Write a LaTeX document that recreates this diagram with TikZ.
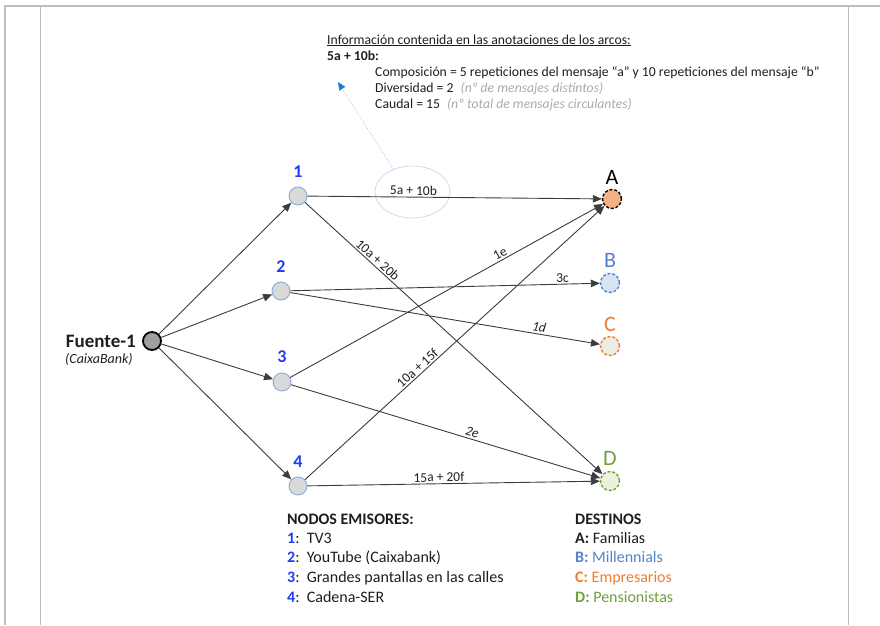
\documentclass[tikz,border=0pt]{standalone}
\usepackage{fontspec}
\setmainfont{Carlito}
\usetikzlibrary{arrows.meta,shapes.geometric}
\definecolor{txt}{RGB}{30,30,30}
\definecolor{frame}{RGB}{190,190,190}
\definecolor{emblue}{RGB}{30,60,250}
\definecolor{nodeborder}{RGB}{140,170,215}
\definecolor{nodefill}{RGB}{217,217,217}
\definecolor{edge}{RGB}{60,60,60}
\definecolor{orangefill}{RGB}{244,177,131}
\definecolor{bfill}{RGB}{218,227,243}
\definecolor{bblue}{RGB}{84,130,200}
\definecolor{cfill}{RGB}{237,237,228}
\definecolor{corange}{RGB}{237,125,49}
\definecolor{dfill}{RGB}{235,241,222}
\definecolor{dgreen}{RGB}{112,160,60}
\definecolor{callout}{RGB}{200,216,238}
\definecolor{calloutline}{RGB}{150,185,225}
\definecolor{arrowblue}{RGB}{40,120,210}
\definecolor{graytxt}{RGB}{170,170,170}
\tikzset{
  emisor/.style={circle,draw=nodeborder,fill=nodefill,line width=0.9pt,minimum size=18pt,inner sep=0pt},
  destino/.style={circle,dashed,line width=1.4pt,minimum size=19pt,inner sep=0pt,dash pattern=on 3pt off 1.8pt},
  numlab/.style={font=\fontsize{18}{20}\selectfont\bfseries,text=emblue,inner sep=0pt},
  destlab/.style={font=\fontsize{22}{24}\selectfont,inner sep=0pt},
  arc/.style={draw=edge,line width=0.9pt,-{Triangle[length=9pt,width=7.5pt]}},
  elab/.style={font=\fontsize{13.5}{15}\selectfont,text=txt,inner sep=1.5pt,sloped,above},
  txtline/.style={anchor=base west,inner sep=0pt,text=txt},
}
\begin{document}
\begin{tikzpicture}[x=1pt,y=-1pt]
\useasboundingbox (0,0) rectangle (880,625);
% frame
\draw[frame,line width=2pt] (4,5.5) -- (880,5.5);
\draw[frame,line width=2pt] (5,5) -- (5,625);
\draw[frame,line width=1pt] (40,6) -- (40,625);
\draw[frame,line width=1pt] (848,6) -- (848,625);

% header text
\begin{scope}[font=\fontsize{13.7}{15}\selectfont]
\node[txtline] (info) at (327,44) {\underline{Información contenida en las anotaciones de los arcos:}};
\node[txtline] (ex) at (327,60) {\bfseries 5a + 10b:};
\node[txtline] (comp) at (375,76) {Composición = 5 repeticiones del mensaje “a” y 10 repeticiones del mensaje “b”};
\node[txtline] (div) at (375,92) {Diversidad = 2\hspace{7pt}{\itshape\color{graytxt}(nº de mensajes distintos)}};
\node[txtline] (cau) at (375,108) {Caudal = 15\hspace{7pt}{\itshape\color{graytxt}(nº total de mensajes circulantes)}};
\end{scope}

% source
\node[circle,draw=black,fill=gray!75,line width=1.8pt,minimum size=18pt,inner sep=0pt] (F) at (152,341) {};
\node[anchor=east,inner sep=0pt,font=\fontsize{19}{21}\selectfont\bfseries,text=txt] (Ft) at (136,341) {Fuente-1};
\node[anchor=west,inner sep=0pt,font=\fontsize{14}{16}\selectfont\itshape,text=txt] (Fc) at (65,359) {(CaixaBank)};

% emitters
\node[emisor] (n1) at (298,196) {};
\node[emisor] (n2) at (281,291) {};
\node[emisor] (n3) at (282,382) {};
\node[emisor] (n4) at (298,486) {};
\node[numlab] (l1) at (298,172) {1};
\node[numlab] (l2) at (281,267) {2};
\node[numlab] (l3) at (282,357) {3};
\node[numlab] (l4) at (298,462) {4};

% destinations
\node[destino,draw=black,fill=orangefill] (A) at (612,199) {};
\node[destino,draw=bblue,fill=bfill] (B) at (610,283) {};
\node[destino,draw=corange,fill=cfill] (C) at (610,346) {};
\node[destino,draw=dgreen,fill=dfill] (D) at (610,481) {};
\node[destlab,text=black] (la) at (612,177) {A};
\node[destlab,text=bblue] (lb) at (610,260) {B};
\node[destlab,text=corange] (lc) at (610,324) {C};
\node[destlab,text=dgreen] (ld) at (610,458) {D};

% callout ellipse
\node[ellipse,draw=callout,line width=0.7pt,minimum width=75pt,minimum height=52pt] (ell) at (412.5,192) {};
\coordinate (tip) at (338,82);
\draw[calloutline,line width=0.8pt,dotted,-{Triangle[length=8pt,width=7pt,fill=arrowblue,color=arrowblue]}] (ell.130) -- (tip);

% source arcs
\draw[arc] (F) -- (n1);
\draw[arc] (F) -- (n2);
\draw[arc] (F) -- (n3);
\draw[arc] (F) -- (n4);

% arcs
\draw[arc] (n1) -- node[elab,pos=0.36] (e1) {5a + 10b} (A);
\draw[arc] (n1) -- node[elab,pos=0.23] (e2) {10a + 20b} (D);
\draw[arc] (n2) -- node[elab,pos=0.88] (e3) {3c} (B);
\draw[arc] (n2) -- node[elab,pos=0.8,font=\fontsize{13.5}{15}\selectfont\itshape] (e4) {1d} (C);
\draw[arc] (n3) -- node[elab,pos=0.68] (e5) {1e} (A);
\draw[arc] (n3) -- node[elab,pos=0.58,font=\fontsize{13.5}{15}\selectfont\itshape] (e6) {2e} (D);
\draw[arc] (n4) -- node[elab,pos=0.39] (e7) {10a + 15f} (A);
\draw[arc] (n4) -- node[elab,pos=0.45] (e8) {15a + 20f} (D);

% legends
\begin{scope}[font=\fontsize{16}{18}\selectfont]
\node[txtline] (h1) at (287,524) {\bfseries NODOS EMISORES:};
\node[txtline] (r1) at (287,543) {{\bfseries\color{emblue}1}:\ \ TV3};
\node[txtline] (r2) at (287,562) {{\bfseries\color{emblue}2}:\ \ YouTube (Caixabank)};
\node[txtline] (r3) at (287,582) {{\bfseries\color{emblue}3}:\ \ Grandes pantallas en las calles};
\node[txtline] (r4) at (287,602) {{\bfseries\color{emblue}4}:\ \ Cadena-SER};
\node[txtline] (h2) at (575,524) {\bfseries DESTINOS};
\node[txtline] (d1) at (575,543) {{\bfseries A:} Familias};
\node[txtline,text=bblue] (d2) at (575,562) {{\bfseries B:} Millennials};
\node[txtline,text=corange] (d3) at (575,582) {{\bfseries C:} Empresarios};
\node[txtline,text=dgreen] (d4) at (575,602) {{\bfseries D:} Pensionistas};
\end{scope}
\end{tikzpicture}
\end{document}
